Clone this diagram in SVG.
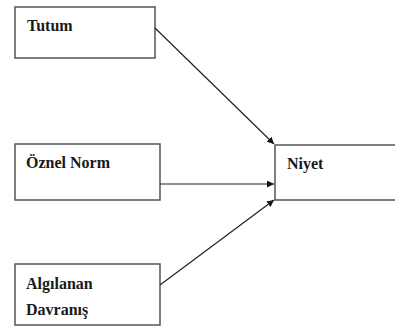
<svg xmlns="http://www.w3.org/2000/svg" width="395" height="328" viewBox="0 0 395 328">
<defs>
<style>
.box{fill:#fff;stroke:#555;stroke-width:1.5}
.t{font-weight:bold;font-size:16px;fill:#1a1a1a}
.c{stroke:#222;stroke-width:1.2;fill:none;marker-end:url(#ah)}
</style>
<marker id="ah" viewBox="0 0 10 10" refX="10" refY="5" markerWidth="7" markerHeight="7" markerUnits="userSpaceOnUse" orient="auto">
<path d="M0,0 L10,5 L0,10 z" fill="#111"/>
</marker>
</defs>
<rect width="395" height="328" fill="#fff"/>
<g font-family="'Liberation Serif', 'Times New Roman', serif">
<g id="tutum"><rect class="box" x="15" y="7" width="140" height="51"/><text class="t" x="27" y="31">Tutum</text></g>
<g id="oznel-norm"><rect class="box" x="15" y="144" width="145" height="56"/><text class="t" x="26" y="168">Öznel Norm</text></g>
<g id="algilanan"><rect class="box" x="15" y="264" width="145" height="61"/><text class="t" x="26" y="289">Algılanan</text><text class="t" x="26" y="315">Davranış</text></g>
<g id="niyet"><path class="box" d="M396,145 H275 V200 H396"/><text class="t" x="287" y="169">Niyet</text></g>
</g>
<g id="connectors">
<line class="c" x1="155" y1="28" x2="274" y2="144"/>
<line class="c" x1="160" y1="184" x2="274" y2="184"/>
<line class="c" x1="160" y1="285" x2="274" y2="200"/>
</g>
</svg>
